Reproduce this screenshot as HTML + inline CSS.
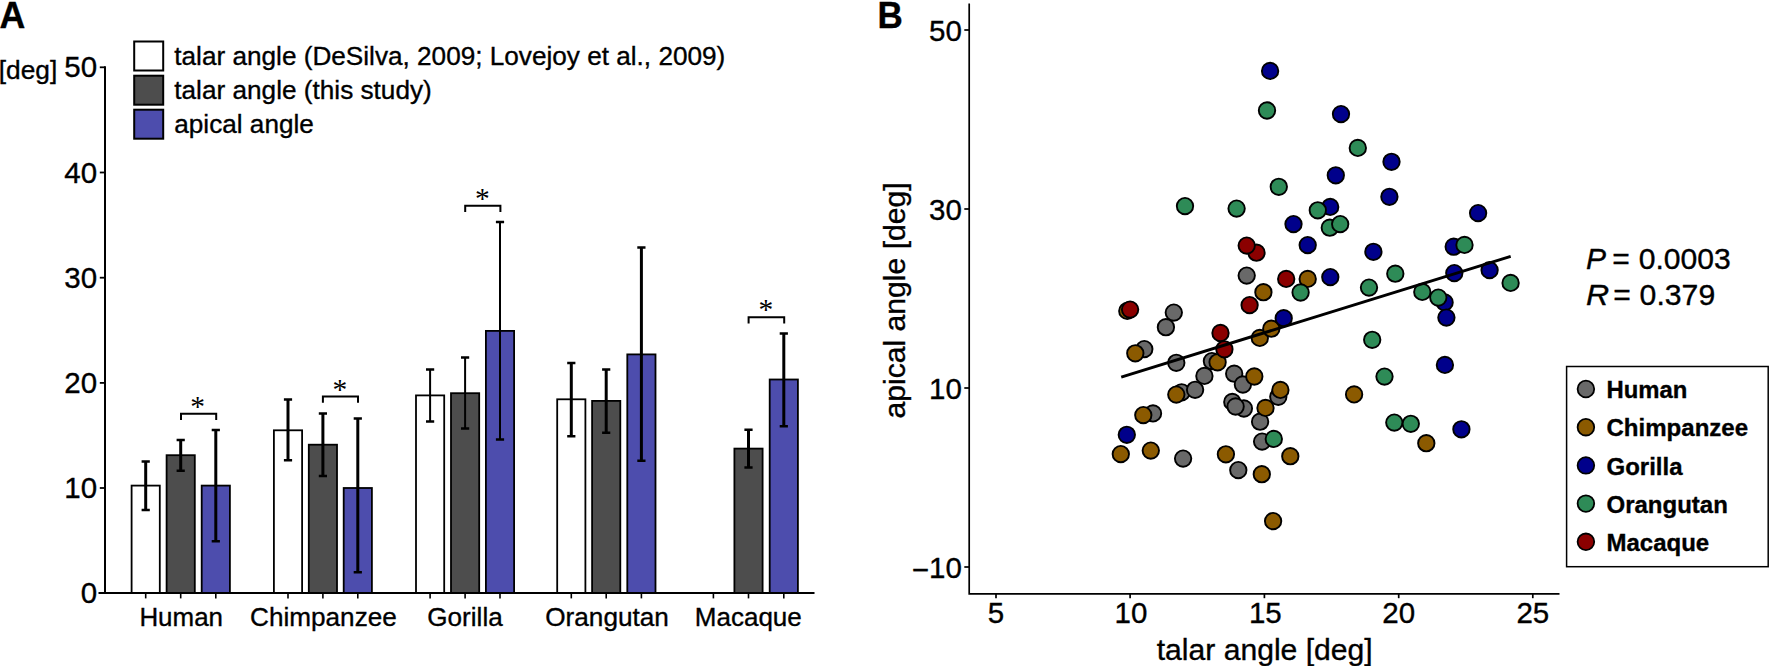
<!DOCTYPE html>
<html lang="en"><head><meta charset="utf-8"><title>Talar and apical angle</title>
<style>html,body{margin:0;padding:0;background:#fff;overflow:hidden}svg{display:block}text{font-family:"Liberation Sans",Arial,Helvetica,sans-serif;fill:#000;stroke:#000;stroke-width:0.35px}.ser{font-family:"Liberation Serif","Times New Roman",serif;stroke:none}</style></head><body>
<svg width="1769" height="666" viewBox="0 0 1769 666">
<rect width="1769" height="666" fill="#fff"/>
<g id="panelA">
<text x="-0.5" y="28" font-size="37" font-weight="bold" textLength="25.8" lengthAdjust="spacingAndGlyphs">A</text>
<text x="-1.3" y="79.2" font-size="26" textLength="58.5" lengthAdjust="spacingAndGlyphs">[deg]</text>
<rect x="134.2" y="41.5" width="29" height="29" fill="#ffffff" stroke="#000" stroke-width="2"/>
<text x="174.3" y="64.6" font-size="26.5" textLength="551" lengthAdjust="spacingAndGlyphs">talar angle (DeSilva, 2009; Lovejoy et al., 2009)</text>
<rect x="134.2" y="75.7" width="29" height="29" fill="#4d4d4d" stroke="#000" stroke-width="2"/>
<text x="174.3" y="98.8" font-size="26.5" textLength="257.5" lengthAdjust="spacingAndGlyphs">talar angle (this study)</text>
<rect x="134.2" y="109.7" width="29" height="29" fill="#4d4dad" stroke="#000" stroke-width="2"/>
<text x="174.3" y="132.8" font-size="26.5" textLength="139.5" lengthAdjust="spacingAndGlyphs">apical angle</text>
<rect x="131.6" y="485.6" width="28.2" height="107.5" fill="#ffffff" stroke="#000" stroke-width="1.8"/>
<rect x="166.6" y="455.2" width="28.2" height="137.9" fill="#4d4d4d" stroke="#000" stroke-width="1.8"/>
<rect x="201.7" y="485.6" width="28.2" height="107.5" fill="#4d4dad" stroke="#000" stroke-width="1.8"/>
<rect x="273.9" y="430.3" width="28.2" height="162.8" fill="#ffffff" stroke="#000" stroke-width="1.8"/>
<rect x="308.8" y="444.7" width="28.2" height="148.4" fill="#4d4d4d" stroke="#000" stroke-width="1.8"/>
<rect x="343.7" y="488.0" width="28.2" height="105.1" fill="#4d4dad" stroke="#000" stroke-width="1.8"/>
<rect x="416.0" y="395.4" width="28.2" height="197.7" fill="#ffffff" stroke="#000" stroke-width="1.8"/>
<rect x="451.0" y="393.2" width="28.2" height="199.9" fill="#4d4d4d" stroke="#000" stroke-width="1.8"/>
<rect x="485.9" y="330.9" width="28.2" height="262.2" fill="#4d4dad" stroke="#000" stroke-width="1.8"/>
<rect x="557.2" y="399.3" width="28.2" height="193.8" fill="#ffffff" stroke="#000" stroke-width="1.8"/>
<rect x="592.1" y="400.9" width="28.2" height="192.2" fill="#4d4d4d" stroke="#000" stroke-width="1.8"/>
<rect x="627.3" y="354.4" width="28.2" height="238.7" fill="#4d4dad" stroke="#000" stroke-width="1.8"/>
<rect x="734.4" y="448.6" width="28.2" height="144.5" fill="#4d4d4d" stroke="#000" stroke-width="1.8"/>
<rect x="769.7" y="379.5" width="28.2" height="213.6" fill="#4d4dad" stroke="#000" stroke-width="1.8"/>
<path d="M98.5 593.1H814.5M105.0 66.3V593.1" fill="none" stroke="#000" stroke-width="2" stroke-linejoin="miter"/>
<path d="M99.8 67.3H105.0" stroke="#000" stroke-width="1.8"/>
<text x="97.2" y="77.4" font-size="29.5" text-anchor="end">50</text>
<path d="M99.8 172.5H105.0" stroke="#000" stroke-width="1.8"/>
<text x="97.2" y="182.6" font-size="29.5" text-anchor="end">40</text>
<path d="M99.8 277.7H105.0" stroke="#000" stroke-width="1.8"/>
<text x="97.2" y="287.8" font-size="29.5" text-anchor="end">30</text>
<path d="M99.8 382.9H105.0" stroke="#000" stroke-width="1.8"/>
<text x="97.2" y="393.0" font-size="29.5" text-anchor="end">20</text>
<path d="M99.8 488.0H105.0" stroke="#000" stroke-width="1.8"/>
<text x="97.2" y="498.1" font-size="29.5" text-anchor="end">10</text>
<path d="M99.8 593.1H105.0" stroke="#000" stroke-width="1.8"/>
<text x="97.2" y="603.2" font-size="29.5" text-anchor="end">0</text>
<path d="M145.7 593.1V598.4" stroke="#000" stroke-width="1.6"/>
<path d="M180.7 593.1V598.4" stroke="#000" stroke-width="1.6"/>
<path d="M215.8 593.1V598.4" stroke="#000" stroke-width="1.6"/>
<path d="M288.0 593.1V598.4" stroke="#000" stroke-width="1.6"/>
<path d="M322.9 593.1V598.4" stroke="#000" stroke-width="1.6"/>
<path d="M357.8 593.1V598.4" stroke="#000" stroke-width="1.6"/>
<path d="M430.1 593.1V598.4" stroke="#000" stroke-width="1.6"/>
<path d="M465.1 593.1V598.4" stroke="#000" stroke-width="1.6"/>
<path d="M500.0 593.1V598.4" stroke="#000" stroke-width="1.6"/>
<path d="M571.3 593.1V598.4" stroke="#000" stroke-width="1.6"/>
<path d="M606.2 593.1V598.4" stroke="#000" stroke-width="1.6"/>
<path d="M641.4 593.1V598.4" stroke="#000" stroke-width="1.6"/>
<path d="M713.4 593.1V598.4" stroke="#000" stroke-width="1.6"/>
<path d="M748.5 593.1V598.4" stroke="#000" stroke-width="1.6"/>
<path d="M783.8 593.1V598.4" stroke="#000" stroke-width="1.6"/>
<path d="M145.7 461.4V510.0" stroke="#000" stroke-width="3"/>
<path d="M141.6 461.4h8.2M141.6 510.0h8.2" stroke="#000" stroke-width="2.5"/>
<path d="M180.7 440.0V470.8" stroke="#000" stroke-width="3"/>
<path d="M176.6 440.0h8.2M176.6 470.8h8.2" stroke="#000" stroke-width="2.5"/>
<path d="M215.8 430.0V541.3" stroke="#000" stroke-width="3"/>
<path d="M211.7 430.0h8.2M211.7 541.3h8.2" stroke="#000" stroke-width="2.5"/>
<path d="M288.0 399.4V460.2" stroke="#000" stroke-width="3"/>
<path d="M283.9 399.4h8.2M283.9 460.2h8.2" stroke="#000" stroke-width="2.5"/>
<path d="M322.9 413.4V476.0" stroke="#000" stroke-width="3"/>
<path d="M318.8 413.4h8.2M318.8 476.0h8.2" stroke="#000" stroke-width="2.5"/>
<path d="M357.8 418.6V572.2" stroke="#000" stroke-width="3"/>
<path d="M353.7 418.6h8.2M353.7 572.2h8.2" stroke="#000" stroke-width="2.5"/>
<path d="M430.1 369.4V421.5" stroke="#000" stroke-width="2"/>
<path d="M426.0 369.4h8.2M426.0 421.5h8.2" stroke="#000" stroke-width="2.5"/>
<path d="M465.1 357.4V428.4" stroke="#000" stroke-width="2"/>
<path d="M461.0 357.4h8.2M461.0 428.4h8.2" stroke="#000" stroke-width="2.5"/>
<path d="M500.0 222.0V439.6" stroke="#000" stroke-width="2"/>
<path d="M495.9 222.0h8.2M495.9 439.6h8.2" stroke="#000" stroke-width="2.5"/>
<path d="M571.3 363.0V436.3" stroke="#000" stroke-width="3"/>
<path d="M567.2 363.0h8.2M567.2 436.3h8.2" stroke="#000" stroke-width="2.5"/>
<path d="M606.2 369.6V432.7" stroke="#000" stroke-width="3"/>
<path d="M602.1 369.6h8.2M602.1 432.7h8.2" stroke="#000" stroke-width="2.5"/>
<path d="M641.4 247.6V460.8" stroke="#000" stroke-width="3"/>
<path d="M637.3 247.6h8.2M637.3 460.8h8.2" stroke="#000" stroke-width="2.5"/>
<path d="M748.5 429.7V467.6" stroke="#000" stroke-width="3"/>
<path d="M744.4 429.7h8.2M744.4 467.6h8.2" stroke="#000" stroke-width="2.5"/>
<path d="M783.8 333.4V426.2" stroke="#000" stroke-width="3"/>
<path d="M779.7 333.4h8.2M779.7 426.2h8.2" stroke="#000" stroke-width="2.5"/>
<text x="139.4" y="626" font-size="26.5" textLength="83.6" lengthAdjust="spacingAndGlyphs">Human</text>
<text x="250.0" y="626" font-size="26.5" textLength="146.8" lengthAdjust="spacingAndGlyphs">Chimpanzee</text>
<text x="427.3" y="626" font-size="26.5" textLength="75.4" lengthAdjust="spacingAndGlyphs">Gorilla</text>
<text x="545.2" y="626" font-size="26.5" textLength="123.7" lengthAdjust="spacingAndGlyphs">Orangutan</text>
<text x="694.8" y="626" font-size="26.5" textLength="107.0" lengthAdjust="spacingAndGlyphs">Macaque</text>
<path d="M181.0 419.9V413.7H216.2V419.9" fill="none" stroke="#000" stroke-width="2"/>
<text class="ser" x="197.7" y="415.7" font-size="29.5" text-anchor="middle">*</text>
<path d="M322.9 402.8V396.6H358.0V402.8" fill="none" stroke="#000" stroke-width="2"/>
<text class="ser" x="339.8" y="398.6" font-size="29.5" text-anchor="middle">*</text>
<path d="M465.2 212.0V205.8H500.4V212.0" fill="none" stroke="#000" stroke-width="2"/>
<text class="ser" x="482.4" y="207.8" font-size="29.5" text-anchor="middle">*</text>
<path d="M748.6 323.5V317.3H784.2V323.5" fill="none" stroke="#000" stroke-width="2"/>
<text class="ser" x="765.8" y="319.3" font-size="29.5" text-anchor="middle">*</text>
</g>
<g id="panelB">
<text x="877.4" y="28.4" font-size="37" font-weight="bold" textLength="25.3" lengthAdjust="spacingAndGlyphs">B</text>
<path d="M969.2 3.5V593.8H1559.5" fill="none" stroke="#000" stroke-width="1.7"/>
<path d="M964.3 30.0H969.2" stroke="#000" stroke-width="1.7"/>
<text x="961.9" y="40.9" font-size="29.5" text-anchor="end">50</text>
<path d="M964.3 209.0H969.2" stroke="#000" stroke-width="1.7"/>
<text x="961.9" y="219.9" font-size="29.5" text-anchor="end">30</text>
<path d="M964.3 388.0H969.2" stroke="#000" stroke-width="1.7"/>
<text x="961.9" y="398.9" font-size="29.5" text-anchor="end">10</text>
<path d="M964.3 567.0H969.2" stroke="#000" stroke-width="1.7"/>
<text x="961.9" y="577.9" font-size="29.5" text-anchor="end"><tspan dy="2.4">−</tspan><tspan dy="-2.4">10</tspan></text>
<path d="M996.0 593.8V598.2" stroke="#000" stroke-width="1.7"/>
<text x="996.0" y="622.9" font-size="29.5" text-anchor="middle">5</text>
<path d="M1130.1 593.8V598.2" stroke="#000" stroke-width="1.7"/>
<text x="1131.0" y="622.9" font-size="29.5" text-anchor="middle">10</text>
<path d="M1264.4 593.8V598.2" stroke="#000" stroke-width="1.7"/>
<text x="1265.3" y="622.9" font-size="29.5" text-anchor="middle">15</text>
<path d="M1398.7 593.8V598.2" stroke="#000" stroke-width="1.7"/>
<text x="1398.7" y="622.9" font-size="29.5" text-anchor="middle">20</text>
<path d="M1532.8 593.8V598.2" stroke="#000" stroke-width="1.7"/>
<text x="1532.8" y="622.9" font-size="29.5" text-anchor="middle">25</text>
<text x="1264.7" y="659.6" font-size="30" text-anchor="middle" textLength="216" lengthAdjust="spacingAndGlyphs">talar angle [deg]</text>
<text transform="translate(905.3 300.4) rotate(-90)" font-size="30" text-anchor="middle" textLength="236" lengthAdjust="spacingAndGlyphs">apical angle [deg]</text>
<g fill="#696969" stroke="#000" stroke-width="1.9">
<circle cx="1173.8" cy="312.6" r="8.2"/>
<circle cx="1165.9" cy="327.2" r="8.2"/>
<circle cx="1246.7" cy="275.6" r="8.2"/>
<circle cx="1144.3" cy="349.1" r="8.2"/>
<circle cx="1176.3" cy="362.8" r="8.2"/>
<circle cx="1211.9" cy="361.1" r="8.2"/>
<circle cx="1204.4" cy="375.9" r="8.2"/>
<circle cx="1181.6" cy="392.3" r="8.2"/>
<circle cx="1195.1" cy="389.8" r="8.2"/>
<circle cx="1234.2" cy="373.7" r="8.2"/>
<circle cx="1242.9" cy="384.5" r="8.2"/>
<circle cx="1232.3" cy="401.9" r="8.2"/>
<circle cx="1243.9" cy="408.5" r="8.2"/>
<circle cx="1235.6" cy="406.5" r="8.2"/>
<circle cx="1153" cy="413.4" r="8.2"/>
<circle cx="1183.1" cy="458.6" r="8.2"/>
<circle cx="1238.3" cy="470.1" r="8.2"/>
<circle cx="1278.3" cy="396.8" r="8.2"/>
<circle cx="1260.1" cy="421.7" r="8.2"/>
<circle cx="1262.1" cy="441.6" r="8.2"/>
</g>
<g fill="#8b5a00" stroke="#000" stroke-width="1.9">
<circle cx="1127.3" cy="310.9" r="8.2"/>
<circle cx="1307.7" cy="278.9" r="8.2"/>
<circle cx="1263.4" cy="292.2" r="8.2"/>
<circle cx="1135.3" cy="353.3" r="8.2"/>
<circle cx="1217.6" cy="362.3" r="8.2"/>
<circle cx="1176.3" cy="394.6" r="8.2"/>
<circle cx="1254.3" cy="376.5" r="8.2"/>
<circle cx="1259.8" cy="337.9" r="8.2"/>
<circle cx="1271.3" cy="328.7" r="8.2"/>
<circle cx="1143.3" cy="415.1" r="8.2"/>
<circle cx="1120.8" cy="454.1" r="8.2"/>
<circle cx="1150.8" cy="450.6" r="8.2"/>
<circle cx="1225.9" cy="454.3" r="8.2"/>
<circle cx="1280.4" cy="389.9" r="8.2"/>
<circle cx="1265.5" cy="407.9" r="8.2"/>
<circle cx="1354.1" cy="394.4" r="8.2"/>
<circle cx="1261.8" cy="474.2" r="8.2"/>
<circle cx="1290.3" cy="456.2" r="8.2"/>
<circle cx="1273.1" cy="521.1" r="8.2"/>
<circle cx="1426.3" cy="443.2" r="8.2"/>
</g>
<g fill="#00008b" stroke="#000" stroke-width="1.9">
<circle cx="1270.1" cy="70.9" r="8.2"/>
<circle cx="1341" cy="114.1" r="8.2"/>
<circle cx="1293.5" cy="224.1" r="8.2"/>
<circle cx="1391.5" cy="161.8" r="8.2"/>
<circle cx="1335.8" cy="175.3" r="8.2"/>
<circle cx="1389.4" cy="196.8" r="8.2"/>
<circle cx="1330.2" cy="206.9" r="8.2"/>
<circle cx="1478.1" cy="213.1" r="8.2"/>
<circle cx="1453.7" cy="246.7" r="8.2"/>
<circle cx="1454.3" cy="273.1" r="8.2"/>
<circle cx="1489.6" cy="270.1" r="8.2"/>
<circle cx="1444.6" cy="302.4" r="8.2"/>
<circle cx="1446.4" cy="317.6" r="8.2"/>
<circle cx="1307.7" cy="245.1" r="8.2"/>
<circle cx="1373.4" cy="251.8" r="8.2"/>
<circle cx="1330.3" cy="277.1" r="8.2"/>
<circle cx="1283.7" cy="318.2" r="8.2"/>
<circle cx="1126.8" cy="434.8" r="8.2"/>
<circle cx="1444.9" cy="364.9" r="8.2"/>
<circle cx="1461.4" cy="429.3" r="8.2"/>
</g>
<g fill="#2e8b57" stroke="#000" stroke-width="1.9">
<circle cx="1267" cy="110.5" r="8.2"/>
<circle cx="1357.8" cy="147.9" r="8.2"/>
<circle cx="1185" cy="206.1" r="8.2"/>
<circle cx="1236.6" cy="208.6" r="8.2"/>
<circle cx="1278.8" cy="186.8" r="8.2"/>
<circle cx="1317.8" cy="210.3" r="8.2"/>
<circle cx="1329.8" cy="227.7" r="8.2"/>
<circle cx="1340.2" cy="224.1" r="8.2"/>
<circle cx="1464.5" cy="244.9" r="8.2"/>
<circle cx="1395.3" cy="273.7" r="8.2"/>
<circle cx="1510.6" cy="282.9" r="8.2"/>
<circle cx="1422.3" cy="291.9" r="8.2"/>
<circle cx="1438.3" cy="297.6" r="8.2"/>
<circle cx="1300.6" cy="292.5" r="8.2"/>
<circle cx="1369" cy="287.6" r="8.2"/>
<circle cx="1273.8" cy="438.9" r="8.2"/>
<circle cx="1372.2" cy="339.8" r="8.2"/>
<circle cx="1384.5" cy="376.6" r="8.2"/>
<circle cx="1394.3" cy="422.6" r="8.2"/>
<circle cx="1410.8" cy="423.8" r="8.2"/>
</g>
<g fill="#8b0000" stroke="#000" stroke-width="1.9">
<circle cx="1256.5" cy="252.7" r="8.2"/>
<circle cx="1246.7" cy="245.6" r="8.2"/>
<circle cx="1286.2" cy="278.9" r="8.2"/>
<circle cx="1130.1" cy="309.6" r="8.2"/>
<circle cx="1249.6" cy="305.1" r="8.2"/>
<circle cx="1220.5" cy="333.0" r="8.2"/>
<circle cx="1224.4" cy="349.3" r="8.2"/>
</g>
<path d="M1121.2 377.1L1510.7 256.4" stroke="#000" stroke-width="2.9"/>
<text x="1586" y="269" font-size="30"><tspan font-style="italic">P</tspan><tspan x="1612.2">=</tspan><tspan x="1638.7" textLength="92.1" lengthAdjust="spacingAndGlyphs">0.0003</tspan></text>
<text x="1586" y="305.3" font-size="30"><tspan font-style="italic" textLength="23.2" lengthAdjust="spacingAndGlyphs">R</tspan><tspan x="1613.2">=</tspan><tspan x="1639.6" textLength="75.6" lengthAdjust="spacingAndGlyphs">0.379</tspan></text>
<rect x="1566.6" y="366.5" width="201.6" height="200.2" fill="#fff" stroke="#000" stroke-width="1.5"/>
<circle cx="1585.9" cy="389" r="8.3" fill="#696969" stroke="#000" stroke-width="1.8"/>
<text x="1606.5" y="398.1" font-size="24" font-weight="bold" textLength="80.9" lengthAdjust="spacingAndGlyphs">Human</text>
<circle cx="1585.9" cy="427.2" r="8.3" fill="#8b5a00" stroke="#000" stroke-width="1.8"/>
<text x="1606.5" y="436.3" font-size="24" font-weight="bold" textLength="141.6" lengthAdjust="spacingAndGlyphs">Chimpanzee</text>
<circle cx="1585.9" cy="465.4" r="8.3" fill="#00008b" stroke="#000" stroke-width="1.8"/>
<text x="1606.5" y="474.5" font-size="24" font-weight="bold">Gorilla</text>
<circle cx="1585.9" cy="503.6" r="8.3" fill="#2e8b57" stroke="#000" stroke-width="1.8"/>
<text x="1606.5" y="512.7" font-size="24" font-weight="bold">Orangutan</text>
<circle cx="1585.9" cy="541.8" r="8.3" fill="#8b0000" stroke="#000" stroke-width="1.8"/>
<text x="1606.5" y="550.9" font-size="24" font-weight="bold">Macaque</text>
</g>
</svg></body></html>
